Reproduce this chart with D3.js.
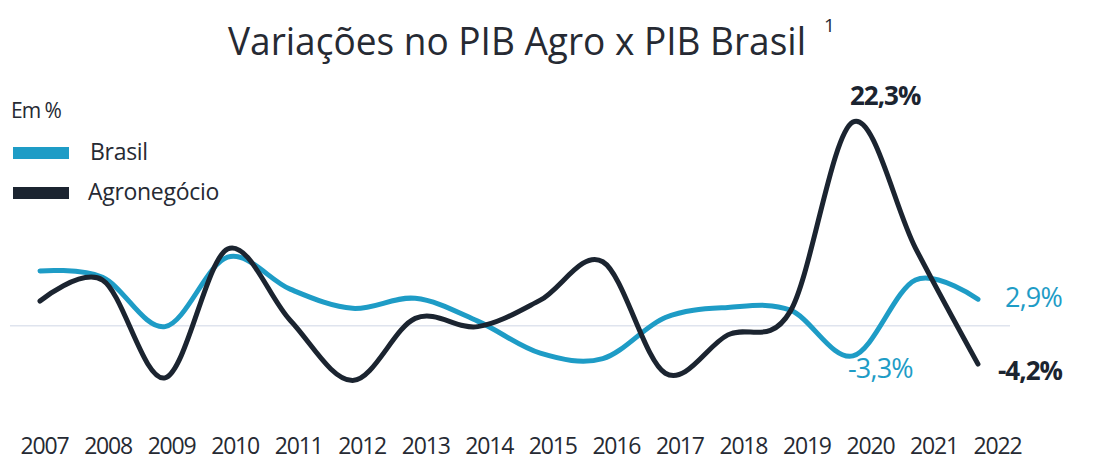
<!DOCTYPE html>
<html>
<head>
<meta charset="utf-8">
<script src="https://cdn.jsdelivr.net/npm/d3@7"></script>
<style>
  body { margin: 0; background: #fff; }
  text { font-family: "Open Sans", "Noto Sans", sans-serif; }
</style>
</head>
<body>
<div id="chart"></div>
<script>
var years = [2007, 2008, 2009, 2010, 2011, 2012, 2013, 2014, 2015, 2016, 2017, 2018, 2019, 2020, 2021, 2022];
var brasil = [6.0, 5.3, -0.1, 7.5, 4.0, 1.9, 3.0, 0.5, -3.0, -3.6, 0.9, 2.0, 1.7, -3.3, 5.0, 2.9];
var agro = [2.7, 5.0, -5.7, 8.4, 0.6, -6.0, 0.8, -0.1, 2.8, 7.0, -5.2, -1.0, 1.6, 22.3, 8.5, -4.2];
var seriesNames = ['Brasil', 'Agronegócio'];
var seriesColors = ['#1e9cc6', '#1b2430'];

var width = 1094;
var height = 459;

var svg = d3.select('#chart')
    .append('svg')
    .attr('width', width)
    .attr('height', height);

// data positions and axis label positions are spaced a bit differently in the original
var x = d3.scalePoint()
    .domain(years)
    .range([40, 978]);

var xLabels = d3.scalePoint()
    .domain(years)
    .range([44, 997]);

var y = d3.scaleLinear()
    .domain([-10, 25])
    .range([417.1, 97.3]);

// title
svg.append('text')
    .attr('x', 228)
    .attr('y', 55)
    .attr('font-size', 39)
    .attr('fill', '#262a33')
    .attr('textLength', 578)
    .attr('lengthAdjust', 'spacingAndGlyphs')
    .text('Variações no PIB Agro x PIB Brasil');

svg.append('text')
    .attr('x', 824)
    .attr('y', 32)
    .attr('font-size', 19)
    .attr('fill', '#262a33')
    .text('1');

// zero line
svg.append('line')
    .attr('x1', 10)
    .attr('x2', 1010)
    .attr('y1', y(0))
    .attr('y2', y(0))
    .attr('stroke', '#dfe4ee')
    .attr('stroke-width', 1.5);

// x axis
var xAxis = d3.axisBottom(xLabels).tickSize(0).tickPadding(0);
var gx = svg.append('g')
    .attr('transform', 'translate(0,438)')
    .call(xAxis);
gx.select('.domain').remove();
gx.selectAll('text')
    .attr('font-size', 23)
    .attr('font-family', '"Open Sans", sans-serif')
    .attr('letter-spacing', -1.2)
    .attr('fill', '#262a33');

var line = d3.line()
    .x((d, i) => x(years[i]))
    .y((d) => y(d))
    .curve(d3.curveCardinal.tension(0));

svg.append('path')
    .datum(brasil)
    .attr('d', line)
    .attr('fill', 'none')
    .attr('stroke', seriesColors[0])
    .attr('stroke-width', 5)
    .attr('stroke-linecap', 'round');

svg.append('path')
    .datum(agro)
    .attr('d', line)
    .attr('fill', 'none')
    .attr('stroke', seriesColors[1])
    .attr('stroke-width', 5)
    .attr('stroke-linecap', 'round');

// legend
svg.append('text')
    .attr('x', 11)
    .attr('y', 118)
    .attr('font-size', 21)
    .attr('fill', '#262a33')
    .attr('letter-spacing', -1)
    .text('Em %');

var legend = svg.append('g')
    .selectAll('g')
    .data(seriesNames)
    .enter()
    .append('g')
    .attr('transform', (d, i) => 'translate(0,' + (147 + i * 40) + ')');

legend.append('rect')
    .attr('x', 13)
    .attr('y', 0)
    .attr('width', 56)
    .attr('height', 12)
    .attr('fill', (d, i) => seriesColors[i]);

legend.append('text')
    .attr('x', (d, i) => i == 0 ? 90 : 88)
    .attr('y', 13)
    .attr('font-size', 23)
    .attr('letter-spacing', -0.3)
    .attr('fill', '#262a33')
    .text((d) => d);

// value labels
var fmt = (v) => v.toFixed(1).replace('.', ',') + '%';
var iLast = years.length - 1;
var i2020 = years.indexOf(2020);

svg.append('text')
    .attr('x', x(2020) - 3)
    .attr('y', 105)
    .attr('font-size', 26)
    .attr('font-weight', 'bold')
    .attr('letter-spacing', -1)
    .attr('fill', seriesColors[1])
    .text(fmt(agro[i2020]));

svg.append('text')
    .attr('x', x(2020) - 5)
    .attr('y', 378)
    .attr('font-size', 27)
    .attr('letter-spacing', -0.8)
    .attr('fill', seriesColors[0])
    .text(fmt(brasil[i2020]));

svg.append('text')
    .attr('x', x(2022) + 27)
    .attr('y', 307)
    .attr('font-size', 27)
    .attr('letter-spacing', -0.8)
    .attr('fill', seriesColors[0])
    .text(fmt(brasil[iLast]));

svg.append('text')
    .attr('x', x(2022) + 20)
    .attr('y', 380)
    .attr('font-size', 26)
    .attr('font-weight', 'bold')
    .attr('letter-spacing', -1)
    .attr('fill', seriesColors[1])
    .text(fmt(agro[iLast]));
</script>
</body>
</html>
